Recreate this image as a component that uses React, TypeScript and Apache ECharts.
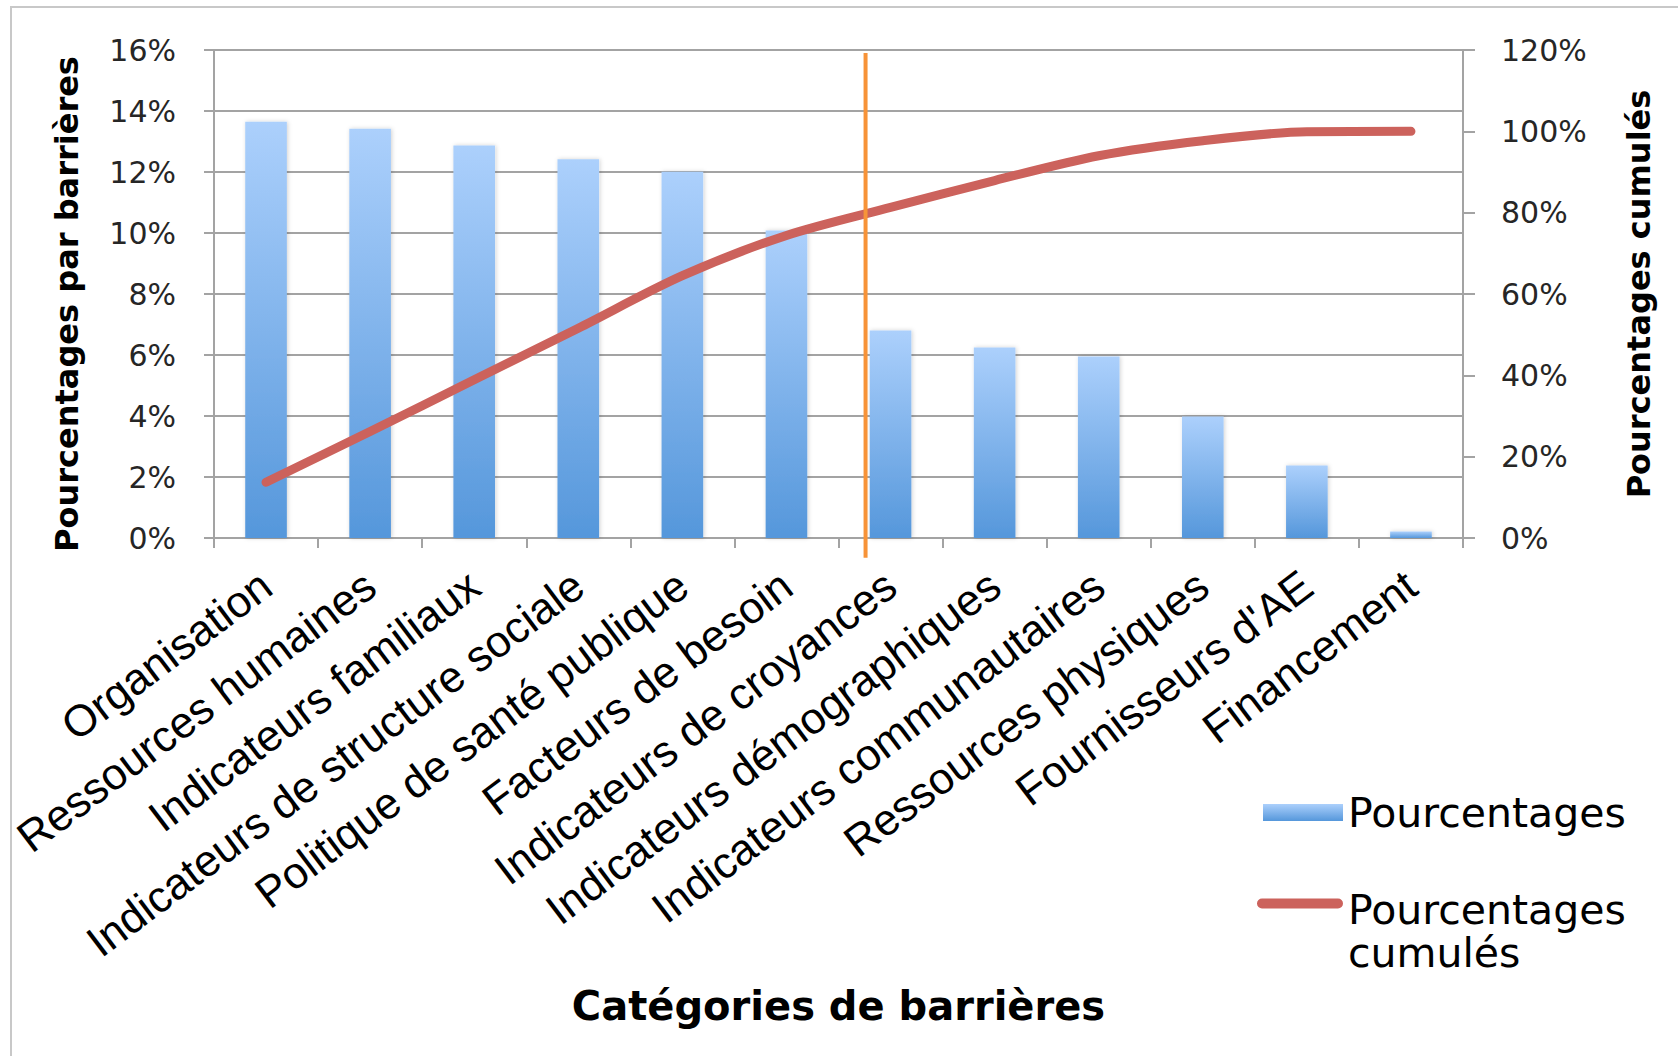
import React, { useEffect, useRef } from "react";
import * as echarts from "echarts";

const categories = [
  "Organisation",
  "Ressources humaines",
  "Indicateurs familiaux",
  "Indicateurs de structure sociale",
  "Politique de santé publique",
  "Facteurs de besoin",
  "Indicateurs de croyances",
  "Indicateurs démographiques",
  "Indicateurs communautaires",
  "Ressources physiques",
  "Fournisseurs d'AE",
  "Financement",
];

// Pourcentages par barrières (left axis, %)
const percentages = [13.65, 13.42, 12.87, 12.42, 12.01, 10.08, 6.8, 6.25, 5.95, 3.98, 2.38, 0.21];

// Pourcentages cumulés (right axis, %)
const cumulative = [13.7, 26.2, 38.9, 51.6, 64.5, 74.4, 81.3, 87.9, 94.0, 97.7, 99.9, 100.0];

const leftAxisTicks = { min: 0, max: 16, interval: 2 };
const rightAxisTicks = { min: 0, max: 120, interval: 20 };

// Vertical cut-off marker, in category units (0 = left edge of the axis, 12 = right edge)
const cutoffPosition = 6.26;
// Vertical extent of the marker, in left-axis units
const cutoffTop = 15.9;
const cutoffBottom = -0.65;

const gridColor = "#a3a3a3";
const labelColor = "#262626";

// Legend icon for the cumulative line: a rounded bar at the top of a taller (invisible) box,
// so that the bar sits beside the first line of the two-line legend text.
const lineLegendIcon =
  "path://M5,0 L81,0 A5,5 0 0 1 81,10 L5,10 A5,5 0 0 1 5,0 Z M0,65 L86,65 Z";

export default function App() {
  const ref = useRef<HTMLDivElement>(null);

  useEffect(() => {
    document.body.style.margin = "0";
    const chart = echarts.init(ref.current!, null, { renderer: "svg" });

    const legendFont = {
      fontFamily: "DejaVu Sans",
      fontSize: 41,
      lineHeight: 43,
      color: "#000",
    };

    const option: any = {
      animation: false,
      backgroundColor: "#ffffff",
      grid: {
        left: 214,
        right: 215,
        top: 50,
        bottom: 518,
        containLabel: false,
        outerBoundsMode: "none",
      },
      legend: [
        {
          data: [{ name: "Pourcentages", icon: "rect" }],
          left: 1263,
          top: 791,
          padding: 0,
          itemWidth: 80,
          itemHeight: 17,
          textStyle: legendFont,
        },
        {
          data: [{ name: "Pourcentages cumulés", icon: lineLegendIcon }],
          left: 1257,
          top: 888,
          padding: 0,
          itemWidth: 86,
          itemHeight: 65,
          formatter: () => "Pourcentages\ncumulés",
          textStyle: legendFont,
        },
      ],
      xAxis: [
        {
          type: "category",
          data: categories,
          boundaryGap: true,
          name: "Catégories de barrières",
          nameLocation: "middle",
          nameGap: 448,
          nameMoveOverlap: false,
          nameTextStyle: {
            fontFamily: "DejaVu Sans",
            fontWeight: "bold",
            fontSize: 40,
            color: "#000",
          },
          axisLine: { show: true, lineStyle: { color: gridColor, width: 2 } },
          axisTick: { show: true, interval: 0, length: 10, lineStyle: { color: gridColor, width: 2 } },
          axisLabel: {
            interval: 0,
            rotate: 37,
            margin: 42,
            fontFamily: "Liberation Sans",
            fontSize: 44,
            color: "#000",
          },
          splitLine: { show: false },
        },
        {
          type: "value",
          min: 0,
          max: categories.length,
          show: false,
        },
      ],
      yAxis: [
        {
          type: "value",
          position: "left",
          min: leftAxisTicks.min,
          max: leftAxisTicks.max,
          interval: leftAxisTicks.interval,
          name: "Pourcentages par barrières",
          nameLocation: "middle",
          nameRotate: 90,
          nameGap: 131,
          nameMoveOverlap: false,
          nameTextStyle: {
            fontFamily: "DejaVu Sans",
            fontWeight: "bold",
            fontSize: 32,
            color: "#000",
            padding: [0, 20, 0, 0],
          },
          axisLine: { show: true, lineStyle: { color: gridColor, width: 2 } },
          axisTick: { show: true, length: 10, lineStyle: { color: gridColor, width: 2 } },
          axisLabel: {
            formatter: "{value}%",
            margin: 38,
            fontFamily: "DejaVu Sans",
            fontSize: 30,
            color: labelColor,
          },
          splitLine: { show: true, lineStyle: { color: gridColor, width: 2 } },
        },
        {
          type: "value",
          position: "right",
          min: rightAxisTicks.min,
          max: rightAxisTicks.max,
          interval: rightAxisTicks.interval,
          name: "Pourcentages cumulés",
          nameLocation: "middle",
          nameRotate: 90,
          nameGap: 160,
          nameMoveOverlap: false,
          nameTextStyle: {
            fontFamily: "DejaVu Sans",
            fontWeight: "bold",
            fontSize: 32,
            color: "#000",
          },
          axisLine: { show: true, lineStyle: { color: gridColor, width: 2 } },
          axisTick: { show: true, length: 12, lineStyle: { color: gridColor, width: 2 } },
          axisLabel: {
            formatter: "{value}%",
            margin: 38,
            fontFamily: "DejaVu Sans",
            fontSize: 30,
            color: labelColor,
          },
          splitLine: { show: false },
        },
      ],
      series: [
        {
          name: "Pourcentages",
          type: "bar",
          xAxisIndex: 0,
          yAxisIndex: 0,
          data: percentages,
          barWidth: "40%",
          itemStyle: {
            color: new echarts.graphic.LinearGradient(0, 0, 0, 1, [
              { offset: 0, color: "#acd0fc" },
              { offset: 1, color: "#5597db" },
            ]),
            shadowColor: "rgba(0,0,0,0.18)",
            shadowBlur: 4,
            shadowOffsetX: 1,
            shadowOffsetY: 0,
          },
          z: 2,
        },
        {
          name: "Pourcentages cumulés",
          type: "line",
          xAxisIndex: 0,
          yAxisIndex: 1,
          data: cumulative,
          smooth: 0.3,
          symbol: "none",
          color: "#cc625c",
          itemStyle: { color: "#cc625c" },
          lineStyle: { color: "#cc625c", width: 9, cap: "round", join: "round" },
          z: 3,
        },
      ],
      graphic: [
        {
          id: "frame",
          type: "rect",
          silent: true,
          shape: { x: 11, y: 7, width: 1700, height: 1100 },
          style: { fill: "none", stroke: "#c8c8c8", lineWidth: 2 },
          z: 0,
        },
      ],
    };

    chart.setOption(option);

    const x = chart.convertToPixel({ xAxisIndex: 1 }, cutoffPosition) as number;
    const y1 = chart.convertToPixel({ yAxisIndex: 0 }, cutoffTop) as number;
    const y2 = chart.convertToPixel({ yAxisIndex: 0 }, cutoffBottom) as number;

    chart.setOption({
      graphic: [
        {
          id: "frame",
          type: "rect",
          silent: true,
          shape: { x: 11, y: 7, width: 1700, height: 1100 },
          style: { fill: "none", stroke: "#c8c8c8", lineWidth: 2 },
          z: 0,
        },
        {
          id: "cutoff",
          type: "line",
          silent: true,
          shape: { x1: x, y1: y1, x2: x, y2: y2 },
          style: { stroke: "#f79338", lineWidth: 4 },
          z: 100,
        },
      ],
    });

    return () => chart.dispose();
  }, []);

  return <div ref={ref} style={{ width: 1678, height: 1056 }} />;
}
